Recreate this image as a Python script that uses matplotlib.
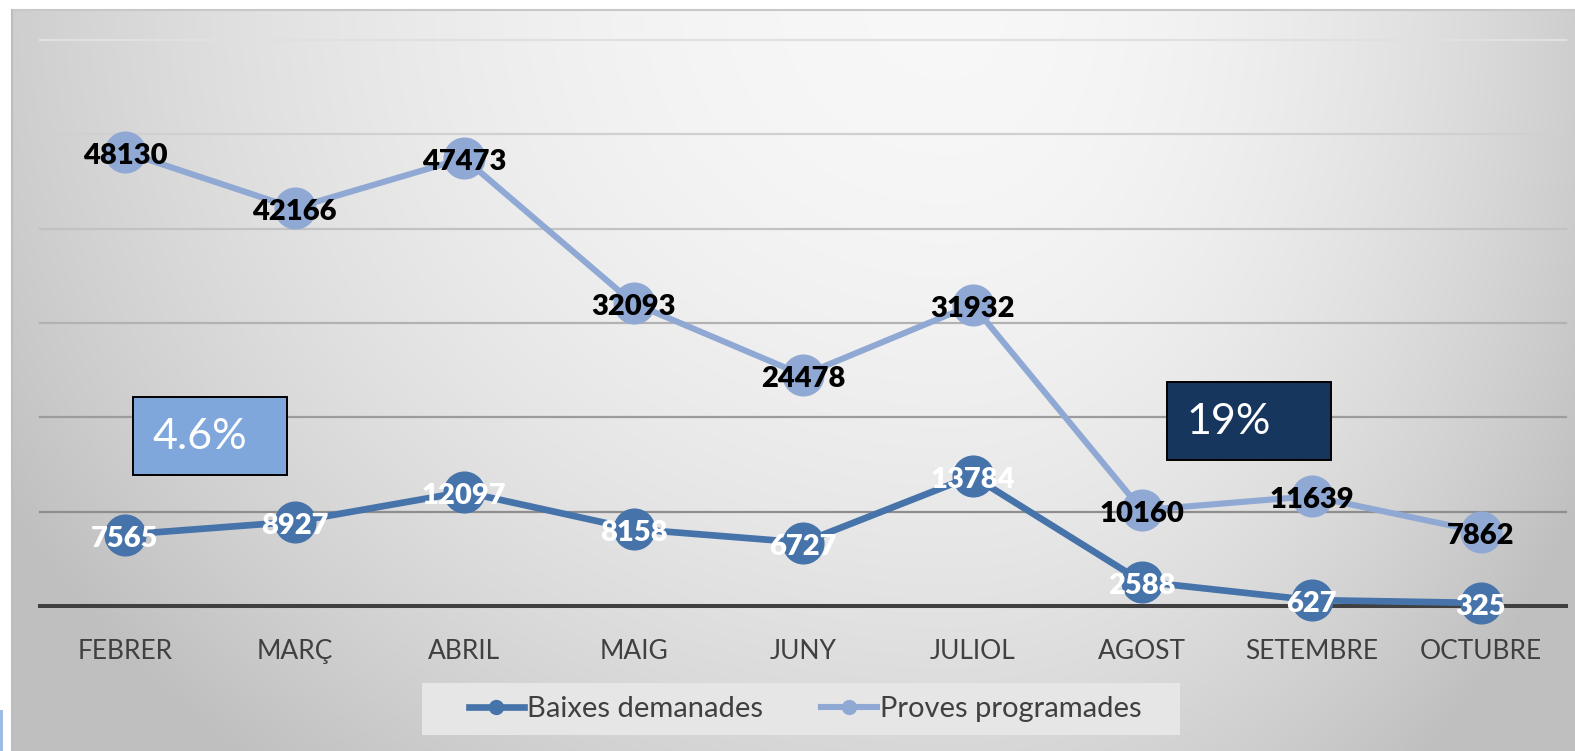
import numpy as np
import matplotlib
matplotlib.use("Agg")
import matplotlib.pyplot as plt
from matplotlib.patches import Rectangle
from matplotlib.lines import Line2D

months = ["FEBRER", "MARÇ", "ABRIL", "MAIG", "JUNY", "JULIOL", "AGOST", "SETEMBRE", "OCTUBRE"]
baixes = [7565, 8927, 12097, 8158, 6727, 13784, 2588, 627, 325]
proves = [48130, 42166, 47473, 32093, 24478, 31932, 10160, 11639, 7862]
series_names = ["Baixes demanades", "Proves programades"]
box_texts = ["4.6%", "19%"]
grid_levels = [10000, 20000, 30000, 40000, 50000, 60000]

W, H = 1575, 751
DPI = 100
C_DARK = "#4673a9"
C_LIGHT = "#90a9d4"

plt.rcParams['font.family'] = ['Lato', 'DejaVu Sans']

fig = plt.figure(figsize=(W / DPI, H / DPI), dpi=DPI)
fig.patch.set_facecolor("white")

def fx(px):
    return px / W

def fy(py):
    return 1 - py / H

# background chart area with radial gradient
bx0, by0 = 12, 9.5
bg = fig.add_axes([fx(bx0), 0, 1 - fx(bx0), fy(by0)])
bg.set_axis_off()
nx, ny = 400, 200
xs = np.linspace(bx0, W, nx)
ys = np.linspace(by0, H, ny)
X, Y = np.meshgrid(xs, ys)
cx, cy = 950, 0
rx = np.where(X < cx, 1050.0, 700.0)
r2 = ((X - cx) / rx) ** 2 + ((Y - cy) / 950.0) ** 2
val = 0.97 - 0.2 * np.minimum(r2, 1.1)
img = np.dstack([val, val, val])
bg.imshow(img, extent=[0, 1, 0, 1], aspect="auto", origin="upper", interpolation="bilinear")
bg.set_xlim(0, 1)
bg.set_ylim(0, 1)
fig.add_artist(Line2D([fx(bx0), 1], [fy(by0), fy(by0)], transform=fig.transFigure, color="#c8c8c8", lw=1.5))
fig.add_artist(Line2D([fx(bx0), fx(bx0)], [0, fy(by0)], transform=fig.transFigure, color="#bdbdbd", lw=1.5))
fig.add_artist(Rectangle((0, 0), fx(3), fy(710), transform=fig.transFigure, facecolor="#9dbde6", edgecolor="none"))

# main axes
ax_left, ax_right = 40.25, 1565.75
ax_top, ax_bot = 40, 606
ax = fig.add_axes([fx(ax_left), fy(ax_bot), fx(ax_right - ax_left), (ax_bot - ax_top) / H])
ax.patch.set_alpha(0)
ax.set_xlim(-0.5, len(months) - 0.5)
ax.set_ylim(0, 60000)
for s in ax.spines.values():
    s.set_visible(False)

grid_colors = ["#8e8e8e", "#9c9c9c", "#b2b2b2", "#c2c2c2", "#d0d0d0", "#e0e0e0"]
for lvl, gc in zip(grid_levels, grid_colors):
    ax.axhline(lvl, color=gc, lw=1.6, zorder=1, clip_on=False)
ax.axhline(0, color="#404040", lw=2.9, zorder=2, clip_on=False)

x = np.arange(len(months))
ax.plot(x, proves, color=C_LIGHT, lw=4.4, marker="o", markersize=29.3, zorder=3, clip_on=False)
ax.plot(x, baixes, color=C_DARK, lw=4.8, marker="o", markersize=29.3, zorder=4, clip_on=False)

for xi, v in zip(x, proves):
    ax.annotate(str(v), (xi, v), xytext=(0, -12), textcoords="offset pixels", ha="center", va="baseline",
                fontsize=21, fontweight="heavy", color="black", zorder=6)
for xi, v in zip(x, baixes):
    ax.annotate(str(v), (xi, v), xytext=(0, -12), textcoords="offset pixels", ha="center", va="baseline",
                fontsize=21, fontweight="heavy", color="white", zorder=6)

ax.set_yticks([])
ax.set_xticks(x)
ax.set_xticklabels(months, fontsize=19, color="#404040")
ax.tick_params(axis="x", length=0, pad=24)

# legend box
fig.add_artist(Rectangle((fx(422), fy(735)), fx(1180 - 422), (735 - 683) / H, transform=fig.transFigure,
                         facecolor="#e6e6e6", edgecolor="none", zorder=1))
handles = [Line2D([], [], color=C_DARK, lw=4.8, marker="o", markersize=10),
           Line2D([], [], color=C_LIGHT, lw=4.4, marker="o", markersize=10)]
leg = fig.legend(handles, series_names, loc="center", bbox_to_anchor=(fx(805), fy(709)), ncol=2,
                 frameon=False, fontsize=21, handlelength=1.9, handletextpad=0.1, columnspacing=2.0)
for t in leg.get_texts():
    t.set_color("#404040")

# annotation boxes
fig.add_artist(Rectangle((fx(133), fy(475)), fx(287 - 133), (475 - 397) / H, transform=fig.transFigure,
                         facecolor="#7fa7dc", edgecolor="black", lw=1.4, zorder=5))
fig.text(fx(152), fy(437), box_texts[0], ha="left", va="center", fontsize=31, color="white", zorder=6)
fig.add_artist(Rectangle((fx(1167), fy(460)), fx(1331 - 1167), (460 - 382) / H, transform=fig.transFigure,
                         facecolor="#17365d", edgecolor="black", lw=1.4, zorder=5))
fig.text(fx(1186), fy(422), box_texts[1], ha="left", va="center", fontsize=31, color="white", zorder=6)

fig.savefig("out.png", dpi=DPI, facecolor=fig.get_facecolor())
